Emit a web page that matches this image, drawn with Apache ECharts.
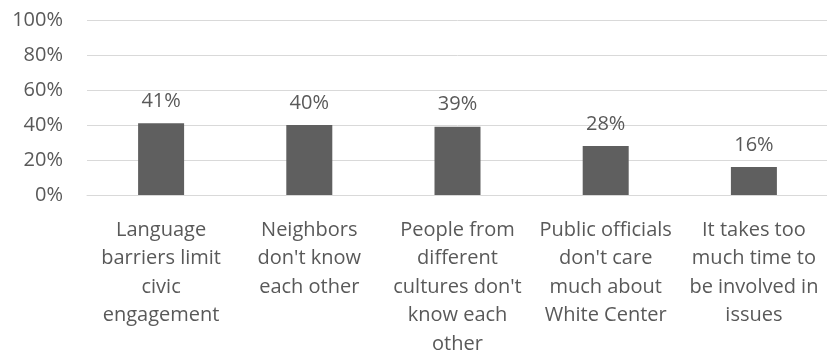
<!DOCTYPE html>
<html>
<head>
<meta charset="utf-8">
<script src="https://cdn.jsdelivr.net/npm/echarts@6/dist/echarts.min.js"></script>
<style>
  html, body { margin: 0; padding: 0; background: #fff; }
  #chart { width: 827px; height: 355px; }
</style>
</head>
<body>
<div id="chart"></div>
<script>
// Barriers to civic engagement, share of respondents
const categories = [
  "Language\nbarriers limit\ncivic\nengagement",
  "Neighbors\ndon't know\neach other",
  "People from\ndifferent\ncultures don't\nknow each\nother",
  "Public officials\ndon't care\nmuch about\nWhite Center",
  "It takes too\nmuch time to\nbe involved in\nissues"
];
const values = [41, 40, 39, 28, 16];
const yTicks = [0, 20, 40, 60, 80, 100];

const textColor = "#595959";
const fontFamily = "'Open Sans', sans-serif";
const fontSize = 20;

const chart = echarts.init(document.getElementById("chart"));
chart.setOption({
  animation: false,
  grid: {
    left: 87, right: -1, top: 20, height: 175,
    containLabel: false,
    outerBoundsMode: "none"
  },
  xAxis: {
    type: "category",
    data: categories,
    axisLine: { show: true, lineStyle: { color: "#d9d9d9", width: 1 } },
    axisTick: { show: false },
    axisLabel: {
      interval: 0,
      color: textColor,
      fontFamily: fontFamily,
      fontSize: fontSize,
      lineHeight: 28.5,
      margin: 21
    }
  },
  yAxis: {
    type: "value",
    min: yTicks[0],
    max: yTicks[yTicks.length - 1],
    interval: 20,
    axisLine: { show: false },
    axisTick: { show: false },
    splitLine: { lineStyle: { color: "#d9d9d9", width: 1 } },
    axisLabel: {
      color: textColor,
      fontFamily: fontFamily,
      fontSize: fontSize,
      margin: 24,
      formatter: v => v + "%"
    }
  },
  series: [{
    type: "bar",
    data: values,
    barWidth: 46,
    itemStyle: { color: "#5f5f5f" },
    label: {
      show: true,
      position: "top",
      distance: 12,
      color: textColor,
      fontFamily: fontFamily,
      fontSize: fontSize,
      formatter: p => p.value + "%"
    }
  }]
});
</script>
</body>
</html>
